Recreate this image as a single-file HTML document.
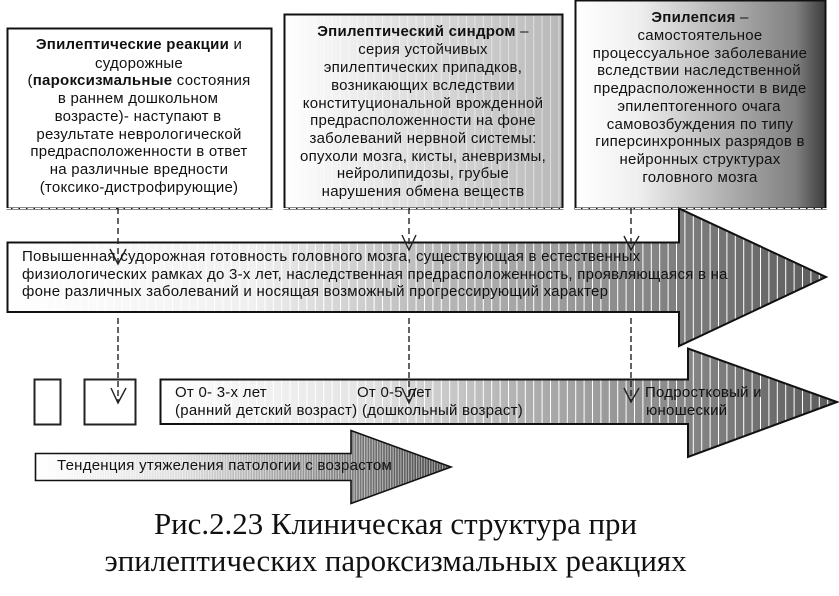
<!DOCTYPE html>
<html><head><meta charset="utf-8"><style>
html,body{margin:0;padding:0;background:#fff}
svg{display:block}
text{font-family:"Liberation Sans",sans-serif;font-size:15px;fill:#111;letter-spacing:.25px}
.c{text-anchor:middle}
.b{font-weight:bold}
.cap{font-family:"Liberation Serif",serif;font-size:30.9px;text-anchor:middle;letter-spacing:0}
</style></head><body>
<svg width="839" height="596" viewBox="0 0 839 596" xmlns="http://www.w3.org/2000/svg">
<defs>
<linearGradient id="g2" x1="284" x2="563" y1="0" y2="0" gradientUnits="userSpaceOnUse"><stop offset="0" stop-color="#fff"/><stop offset="1" stop-color="#b8b8b8"/></linearGradient>
<linearGradient id="g3" x1="575" x2="826" y1="0" y2="0" gradientUnits="userSpaceOnUse"><stop offset="0" stop-color="#fff"/><stop offset=".25" stop-color="#efefef"/><stop offset=".6" stop-color="#b0b0b0"/><stop offset=".88" stop-color="#808080"/><stop offset="1" stop-color="#3a3a3a"/></linearGradient>
<linearGradient id="g4" x1="7" x2="826" y1="0" y2="0" gradientUnits="userSpaceOnUse"><stop offset="0" stop-color="#fff"/><stop offset=".3" stop-color="#f0f0f0"/><stop offset=".5" stop-color="#bdbdbd"/><stop offset=".8" stop-color="#828282"/><stop offset="1" stop-color="#5c5c5c"/></linearGradient>
<linearGradient id="g5" x1="160" x2="837" y1="0" y2="0" gradientUnits="userSpaceOnUse"><stop offset="0" stop-color="#fff"/><stop offset=".3" stop-color="#e4e4e4"/><stop offset=".55" stop-color="#adadad"/><stop offset=".8" stop-color="#828282"/><stop offset="1" stop-color="#5a5a5a"/></linearGradient>
<linearGradient id="g6" x1="35" x2="451" y1="0" y2="0" gradientUnits="userSpaceOnUse"><stop offset="0" stop-color="#fff"/><stop offset=".35" stop-color="#ddd"/><stop offset=".7" stop-color="#888"/><stop offset="1" stop-color="#444"/></linearGradient>
<pattern id="s1" x="4" y="0" width="8.4" height="10" patternUnits="userSpaceOnUse"><rect width="1" height="10" fill="#fff"/></pattern>
<pattern id="s2" x="0" y="0" width="2.6" height="10" patternUnits="userSpaceOnUse"><rect width="1" height="10" fill="#fff" opacity=".55"/></pattern>
</defs>

<!-- boxes -->
<rect x="7.5" y="28.5" width="264" height="180" fill="#fff" stroke="#111" stroke-width="2"/>
<rect x="284.5" y="14.5" width="278" height="194" fill="url(#g2)" stroke="#111" stroke-width="2"/>
<rect x="285.5" y="15.5" width="276" height="192" fill="url(#s1)" opacity=".5"/>
<rect x="575.5" y="0.5" width="250" height="208" fill="url(#g3)" stroke="#111" stroke-width="2"/>
<line x1="5" x2="828" y1="208.5" y2="208.5" stroke="#fff" stroke-width="1" stroke-dasharray="6 1.5"/>

<!-- big arrow -->
<path d="M7.5 242.5H679V208.5L826 277L679 346V312H7.5Z" fill="url(#g4)"/>
<path d="M7.5 242.5H679V208.5L826 277L679 346V312H7.5Z" fill="url(#s1)"/>
<path d="M7.5 242.5H679V208.5L826 277L679 346V312H7.5Z" fill="none" stroke="#111" stroke-width="2"/>

<!-- small rects -->
<rect x="34.5" y="379.5" width="26" height="45" fill="#fff" stroke="#222" stroke-width="2"/>
<rect x="84.5" y="379.5" width="51" height="45" fill="#fff" stroke="#222" stroke-width="2"/>

<!-- second arrow -->
<path d="M160.5 379.5H688V348.5L837 402L688 457V424H160.5Z" fill="url(#g5)"/>
<path d="M160.5 379.5H688V348.5L837 402L688 457V424H160.5Z" fill="url(#s1)"/>
<path d="M160.5 379.5H688V348.5L837 402L688 457V424H160.5Z" fill="none" stroke="#111" stroke-width="2"/>

<!-- third arrow -->
<path d="M35.5 453.5H351V430.5L451 467L351 503.5V480.5H35.5Z" fill="url(#g6)"/>
<path d="M35.5 453.5H351V430.5L451 467L351 503.5V480.5H35.5Z" fill="url(#s2)"/>
<path d="M35.5 453.5H351V430.5L451 467L351 503.5V480.5H35.5Z" fill="none" stroke="#111" stroke-width="1.6"/>

<!-- dashed connectors -->
<g stroke="#222" stroke-width="1.4" fill="none">
<path d="M118 208V264M409 208V250M631 208V250" stroke-dasharray="6 4"/>
<path d="M118 318V402M409 318V402M631 318V402" stroke-dasharray="6 3"/>
<path d="M110 249L118 264L126 249M402 235L409 250L416 235M624 236L631 250L639 236M111 388L118 403L126 388M402 388L409 403L416 388M624 388L631 402L639 388"/>
</g>

<!-- box 1 -->
<text class="c" x="139" y="49"><tspan class="b">Эпилептические реакции</tspan> и</text>
<text class="c" x="139" y="68">судорожные</text>
<text class="c" x="139" y="85">(<tspan class="b">пароксизмальные</tspan> состояния</text>
<text class="c" x="138" y="103">в раннем дошкольном</text>
<text class="c" x="138" y="121">возрасте)- наступают в</text>
<text class="c" x="139" y="139">результате неврологической</text>
<text class="c" x="139" y="156">предрасположенности в ответ</text>
<text class="c" x="139" y="174">на различные вредности</text>
<text class="c" x="139" y="192">(токсико-дистрофирующие)</text>

<!-- box 2 -->
<text class="c" x="423" y="36"><tspan class="b">Эпилептический синдром</tspan> –</text>
<text class="c" x="423" y="54">серия устойчивых</text>
<text class="c" x="423" y="72">эпилептических припадков,</text>
<text class="c" x="423" y="90">возникающих вследствии</text>
<text class="c" x="423" y="108">конституциональной врожденной</text>
<text class="c" x="423" y="125">предрасположенности на фоне</text>
<text class="c" x="423" y="143">заболеваний нервной системы:</text>
<text class="c" x="423" y="161">опухоли мозга, кисты, аневризмы,</text>
<text class="c" x="423" y="178">нейролипидозы, грубые</text>
<text class="c" x="423" y="196">нарушения обмена веществ</text>

<!-- box 3 -->
<text class="c" x="700" y="22"><tspan class="b">Эпилепсия</tspan> –</text>
<text class="c" x="700" y="40">самостоятельное</text>
<text class="c" x="700" y="58">процессуальное заболевание</text>
<text class="c" x="699" y="75">вследствии наследственной</text>
<text class="c" x="700" y="93">предрасположенности в виде</text>
<text class="c" x="699" y="111">эпилептогенного очага</text>
<text class="c" x="700" y="129">самовозбуждения по типу</text>
<text class="c" x="700" y="146">гиперсинхронных разрядов в</text>
<text class="c" x="700" y="164">нейронных структурах</text>
<text class="c" x="700" y="182">головного мозга</text>

<!-- big arrow text -->
<text x="22" y="261">Повышенная судорожная готовность головного мозга, существующая в естественных</text>
<text x="22" y="279">физиологических рамках до 3-х лет, наследственная предрасположенность, проявляющаяся в на</text>
<text x="22" y="296">фоне различных заболеваний и носящая возможный прогрессирующий характер</text>

<!-- second arrow text -->
<text x="175" y="397">От 0- 3-х лет</text>
<text x="175" y="415">(ранний детский возраст)</text>
<text x="357" y="397">От 0-5 лет</text>
<text x="362" y="415">(дошкольный возраст)</text>
<text x="645" y="397">Подростковый и</text>
<text x="646" y="415">юношеский</text>

<!-- third arrow text -->
<text x="57" y="470">Тенденция утяжеления патологии с возрастом</text>

<!-- caption -->
<text class="cap" x="395.5" y="534">Рис.2.23 Клиническая структура при</text>
<text class="cap" x="395.5" y="571">эпилептических пароксизмальных реакциях</text>
</svg>
</body></html>
